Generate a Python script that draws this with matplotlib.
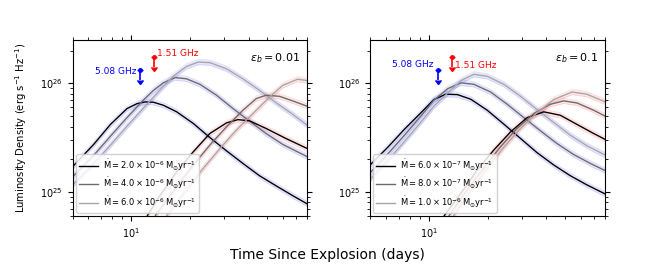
import matplotlib
matplotlib.use("Agg")
import matplotlib.pyplot as plt
import numpy as np

# luminosities in units of 1e25 erg s^-1 Hz^-1, times in days
# ---- left panel, eps_b = 0.01 ----
left_mdot = ["2.0", "4.0", "6.0"]
left_exp = ["-6", "-6", "-6"]
left_508_t = [
    [5.0, 6.42, 7.81, 9.50, 10.7, 11.8, 13.0, 14.6, 17.1, 20.8, 25.3, 30.8, 37.4, 45.5, 55.3, 67.3, 80],
    [5.0, 6.42, 7.81, 9.50, 11.6, 13.0, 14.6, 16.8, 19.2, 22.5, 27.4, 33.3, 40.5, 49.2, 59.9, 80],
    [5.0, 6.42, 7.81, 9.50, 11.6, 14.1, 16.4, 19.2, 22.1, 25.3, 30.8, 37.4, 45.5, 55.3, 67.3, 80],
]
left_508_L = [
    [1.71, 2.75, 4.18, 5.85, 6.50, 6.74, 6.69, 6.28, 5.46, 4.27, 3.17, 2.39, 1.83, 1.41, 1.14, 0.925, 0.776],
    [1.38, 2.18, 3.26, 4.84, 7.08, 8.62, 10.1, 11.3, 11.0, 9.79, 7.76, 5.85, 4.48, 3.45, 2.74, 2.11],
    [1.16, 1.83, 2.70, 4.03, 5.98, 8.75, 11.6, 14.3, 15.7, 15.5, 13.6, 11.0, 8.62, 6.64, 5.19, 4.11],
]
left_151_t = [
    [12.1, 14.1, 17.1, 20.8, 25.3, 30.8, 35.3, 40.5, 49.2, 62.3, 80],
    [13.3, 17.1, 20.8, 25.3, 30.8, 37.4, 43.8, 49.2, 57.6, 67.3, 80],
    [15.2, 19.2, 23.4, 28.5, 34.6, 42.1, 51.2, 59.9, 71.4, 80],
]
left_151_L = [
    [0.607, 0.938, 1.53, 2.34, 3.45, 4.32, 4.63, 4.51, 3.84, 3.10, 2.51],
    [0.607, 1.12, 1.77, 2.70, 3.97, 5.65, 7.23, 7.76, 7.59, 6.89, 6.15],
    [0.607, 1.04, 1.65, 2.51, 3.71, 5.27, 7.48, 9.57, 10.9, 10.6],
]

# ---- right panel, eps_b = 0.1 ----
right_mdot = ["6.0", "8.0", "1.0"]
right_exp = ["-7", "-7", "-6"]
right_508_t = [
    [5.0, 6.15, 7.48, 9.10, 10.6, 12.2, 14.0, 16.4, 19.9, 24.2, 29.5, 35.8, 43.6, 53.0, 64.5, 80],
    [5.0, 6.15, 7.48, 9.10, 10.6, 12.5, 14.6, 17.0, 20.7, 25.2, 30.6, 37.3, 45.3, 55.1, 67.1, 80],
    [5.0, 6.15, 7.48, 9.10, 10.6, 12.5, 14.6, 17.0, 19.9, 24.2, 29.5, 35.8, 43.6, 53.0, 64.5, 80],
]
right_508_L = [
    [1.77, 2.57, 3.76, 5.35, 7.08, 7.93, 7.87, 7.13, 5.65, 4.21, 3.10, 2.30, 1.77, 1.41, 1.16, 0.957],
    [1.50, 2.23, 3.31, 4.98, 6.98, 8.93, 10.1, 9.79, 8.32, 6.41, 4.84, 3.65, 2.79, 2.21, 1.83, 1.57],
    [1.31, 1.94, 2.90, 4.39, 6.15, 8.15, 10.6, 12.1, 11.6, 9.79, 7.59, 5.73, 4.36, 3.33, 2.66, 2.18],
]
right_151_t = [
    [12.0, 14.6, 17.7, 21.5, 26.2, 31.9, 38.8, 47.1, 57.4, 69.8, 80],
    [12.7, 15.7, 19.2, 23.3, 28.3, 34.5, 41.9, 49.0, 57.4, 69.8, 80],
    [13.4, 16.4, 19.9, 24.2, 29.5, 35.8, 43.6, 54.1, 64.5, 80],
]
right_151_L = [
    [0.607, 0.972, 1.59, 2.43, 3.57, 4.84, 5.46, 5.08, 4.18, 3.45, 3.04],
    [0.607, 1.04, 1.68, 2.61, 3.84, 5.27, 6.41, 6.89, 6.59, 5.65, 4.98],
    [0.607, 1.03, 1.65, 2.57, 3.84, 5.35, 7.08, 8.32, 7.93, 6.74],
]

# radio upper limits (same in both panels)
lim_t = [11.1, 13.1]
lim_L = [13.2, 17.4]
lim_names = ["5.08 GHz", "1.51 GHz"]

line_colors = ["k", "0.42", "0.65"]
SCALE = 1e25


def draw_panel(ax, t508, L508, t151, L151, mdot, expo, eps, blue_dy, red_dy):
    for group_t, group_L, glow in [(t508, L508, "#3333ff"), (t151, L151, "#ff3333")]:
        for i in range(3):
            t = np.array(group_t[i])
            L = np.array(group_L[i]) * SCALE
            ax.fill_between(t, L * 10**-0.024, L * 10**0.024, color=glow, alpha=0.11, lw=0)
            ax.plot(t, L * 10**-0.024, color=glow, alpha=0.16, lw=0.6)
            ax.plot(t, L * 10**0.024, color=glow, alpha=0.16, lw=0.6)
    handles = []
    for group_t, group_L in [(t508, L508), (t151, L151)]:
        for i in range(3):
            h, = ax.plot(group_t[i], np.array(group_L[i]) * SCALE, color=line_colors[i], lw=1.0)
            if len(handles) < 3:
                handles.append(h)

    labels = [r"$\dot{\rm M} = %s \times 10^{%s}\,{\rm M_{\odot} yr^{-1}}$" % (m, e)
              for m, e in zip(mdot, expo)]
    ax.legend(handles, labels, loc="lower left", fontsize=6, handlelength=2.3,
              borderpad=0.35, labelspacing=0.3, handletextpad=0.6,
              borderaxespad=0.4, framealpha=0.85)

    for tt, LL, col in zip(lim_t, lim_L, ["blue", "red"]):
        ax.errorbar([tt], [LL * SCALE], yerr=[[LL * SCALE * 0.19], [0]], uplims=True,
                    fmt="o", color=col, ms=2.5, lw=1.2, capsize=2)
    ax.text(lim_t[0] * 0.955, lim_L[0] * SCALE * blue_dy, lim_names[0], color="blue",
            fontsize=6.5, ha="right", va="center")
    ax.text(lim_t[1] * 1.04, lim_L[1] * SCALE * red_dy, lim_names[1], color="red",
            fontsize=6.5, ha="left", va="center")

    ax.text(0.97, 0.9, r"$\varepsilon_b = %s$" % eps, transform=ax.transAxes,
            ha="right", va="center", fontsize=8)

    ax.set_xscale("log")
    ax.set_yscale("log")
    ax.set_xlim(5, 80)
    ax.set_ylim(6e24, 2.5e26)
    ax.tick_params(which="both", top=True, right=True, labelsize=7)
    ax.tick_params(which="major", length=3.5)
    ax.tick_params(which="minor", length=2)


fig = plt.figure(figsize=(6.55, 2.69), dpi=100)
ax1 = fig.add_axes([0.111, 0.197, 0.358, 0.654])
ax2 = fig.add_axes([0.565, 0.197, 0.359, 0.654])

draw_panel(ax1, left_508_t, left_508_L, left_151_t, left_151_L, left_mdot, left_exp, "0.01",
           0.98, 1.08)
draw_panel(ax2, right_508_t, right_508_L, right_151_t, right_151_L, right_mdot, right_exp, "0.1",
           1.12, 0.83)

fig.text(0.032, 0.524, r"Luminosity Density (erg s$^{-1}$ Hz$^{-1}$)", rotation=90,
         ha="center", va="center", fontsize=7.2)
fig.text(0.5, 0.052, "Time Since Explosion (days)", ha="center", va="center", fontsize=10)

fig.savefig("out.png", dpi=100)
